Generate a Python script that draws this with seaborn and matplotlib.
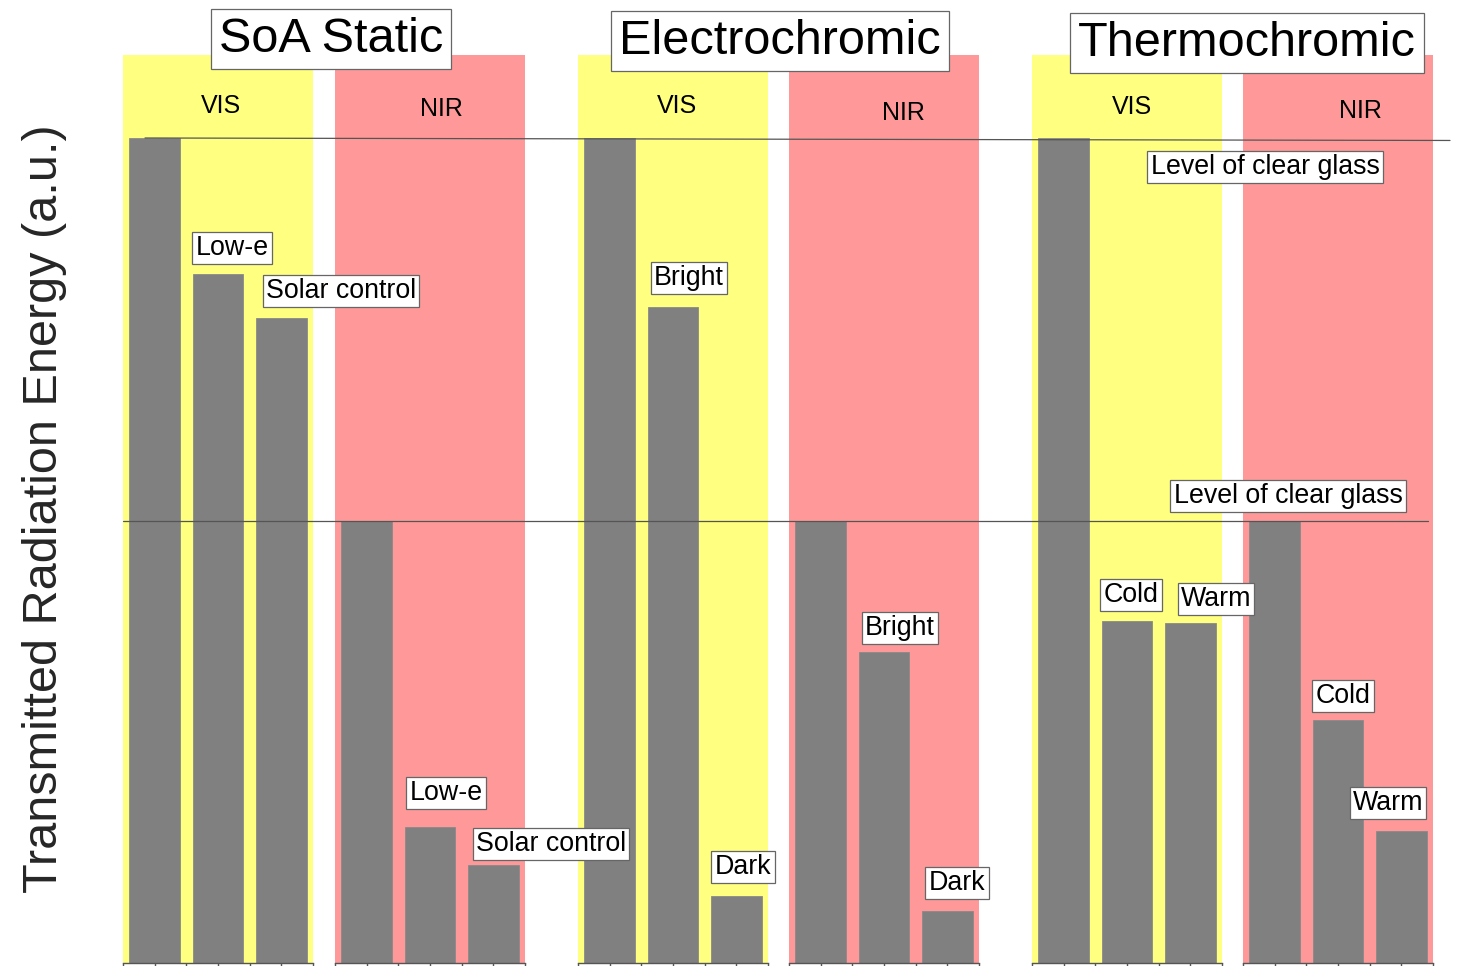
import numpy as np
import pandas as pd
import matplotlib
matplotlib.use("Agg")
import matplotlib.pyplot as plt
import matplotlib.transforms as mtransforms
import seaborn as sns

# ---------------- data ----------------
groups = ["SoA Static", "Electrochromic", "Thermochromic"]
bands = ["VIS", "NIR"]

soa_labels = ["Clear glass", "Low-e", "Solar control"]
soa_vis = [100.0, 83.5, 78.2]
soa_nir = [53.6, 16.5, 11.9]

ec_labels = ["Clear glass", "Bright", "Dark"]
ec_vis = [100.0, 79.5, 8.1]
ec_nir = [53.6, 37.7, 6.3]

tc_labels = ["Clear glass", "Cold", "Warm"]
tc_vis = [100.0, 41.5, 41.2]
tc_nir = [53.6, 29.5, 16.0]

clear_label = "Level of clear glass"
ylabel = "Transmitted Radiation Energy (a.u.)"

# ---------------- style ----------------
sns.set_style("white")
plt.rcParams["font.family"] = ["Liberation Sans", "DejaVu Sans"]

W, H = 1458, 966
fig = plt.figure(figsize=(W / 100, H / 100), dpi=100)

vis_color = "#FFFF80"
nir_color = "#FF9999"
bar_color = "#808080"
line_color = "#555555"

base_px, top_px = 963, 55
ymax = 110.06

band_left_px = [123, 335, 578, 789, 1032, 1243]
band_w_px = 190

panel_data = [
    (soa_labels, soa_vis), (soa_labels, soa_nir),
    (ec_labels, ec_vis), (ec_labels, ec_nir),
    (tc_labels, tc_vis), (tc_labels, tc_nir),
]

axes = []
for i, (labels, vals) in enumerate(panel_data):
    x0 = band_left_px[i]
    ax = fig.add_axes([x0 / W, (H - base_px) / H, band_w_px / W, (base_px - top_px) / H])
    ax.set_facecolor(vis_color if i % 2 == 0 else nir_color)
    df = pd.DataFrame({"label": labels, "value": vals})
    sns.barplot(data=df, x="label", y="value", ax=ax, color=bar_color,
                saturation=1, width=0.8, edgecolor="#8a8a8a", linewidth=0.6)
    ax.set_xlim(-0.5, len(labels) - 0.5)
    ax.set_ylim(0, ymax)
    ax.set_xticks(np.arange(-0.5, len(labels), 0.5))
    ax.set_xticklabels([])
    ax.set_yticks([])
    ax.set_xlabel("")
    ax.set_ylabel("")
    for s in ["top", "left", "right"]:
        ax.spines[s].set_visible(False)
    ax.spines["bottom"].set_color(line_color)
    ax.spines["bottom"].set_linewidth(1.0)
    ax.tick_params(axis="x", direction="out", length=4.5, width=1.0, color=line_color, bottom=True)
    axes.append(ax)

# ---------------- overlay for lines & annotations ----------------
ov = fig.add_axes([0, 0, 1, 1], zorder=10)
ov.set_xlim(0, W)
ov.set_ylim(H, 0)
ov.axis("off")
ov.patch.set_alpha(0)

# clear-glass reference lines (y from data of the first VIS / NIR panel)
tv = mtransforms.blended_transform_factory(ov.transData, axes[0].transData)
tn = mtransforms.blended_transform_factory(ov.transData, axes[1].transData)
ov.plot([145, 1450], [soa_vis[0], soa_vis[0] - 0.3], transform=tv, color=line_color, lw=0.9, clip_on=False)
ov.plot([123, 1428], [soa_nir[0], soa_nir[0]], transform=tn, color=line_color, lw=0.9, clip_on=False)

def boxed(x, y, s, size, pad):
    ov.text(x, y, s, fontsize=size, ha="center", va="center", color="black",
            bbox=dict(boxstyle=f"square,pad={pad}", facecolor="white",
                      edgecolor="#666666", linewidth=0.9))

# group titles
title_pos = [(331, 39), (780, 41), (1247, 43)]
for g, (x, y) in zip(groups, title_pos):
    boxed(x, y, g, 35, 0.16)

# band labels
band_lab_pos = [(221, 106), (441, 109), (677, 106), (903, 113), (1132, 107), (1360, 111)]
for i, (x, y) in enumerate(band_lab_pos):
    ov.text(x, y, bands[i % 2], fontsize=18, ha="center", va="center", color="black")

# bar annotations
ann = [
    (232, 248, soa_labels[1]), (341, 291, soa_labels[2]),
    (446, 793, soa_labels[1]), (551, 844, soa_labels[2]),
    (689, 278, ec_labels[1]), (743, 867, ec_labels[2]),
    (900, 628, ec_labels[1]), (957, 883, ec_labels[2]),
    (1131, 595, tc_labels[1]), (1216, 599, tc_labels[2]),
    (1343, 696, tc_labels[1]), (1388, 803, tc_labels[2]),
    (1265, 167, clear_label), (1288, 496, clear_label),
]
for x, y, s in ann:
    boxed(x, y, s, 19.3, 0.12)

fig.text(45 / W, 1 - 509 / H, ylabel, rotation=90, fontsize=35, ha="center", va="center")

fig.savefig("out.png", dpi=100)
